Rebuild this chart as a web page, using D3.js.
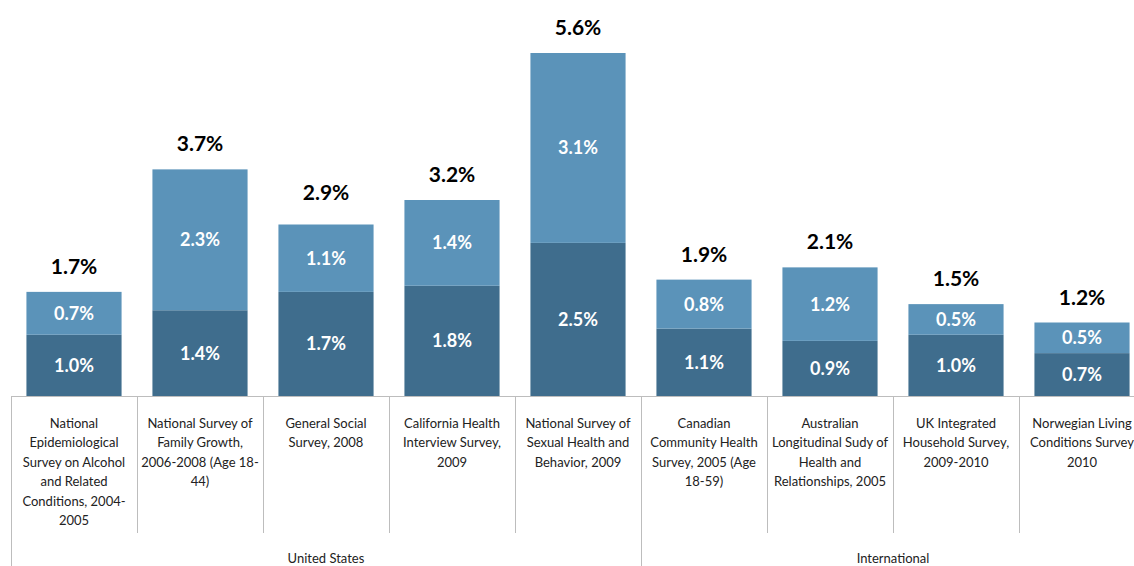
<!DOCTYPE html>
<html>
<head>
<meta charset="utf-8">
<script src="https://cdn.jsdelivr.net/npm/d3@7"></script>
<style>
  body { margin: 0; background: #fff; }
  svg { display: block; font-family: Lato, "Open Sans", sans-serif; }
</style>
</head>
<body>
<div id="chart"></div>
<script>
// data
const categories = [
    ['National', 'Epidemiological', 'Survey on Alcohol', 'and Related', 'Conditions, 2004-', '2005'],
    ['National Survey of', 'Family Growth,', '2006-2008 (Age 18-', '44)'],
    ['General Social', 'Survey, 2008'],
    ['California Health', 'Interview Survey,', '2009'],
    ['National Survey of', 'Sexual Health and', 'Behavior, 2009'],
    ['Canadian', 'Community Health', 'Survey, 2005 (Age', '18-59)'],
    ['Australian', 'Longitudinal Sudy of', 'Health and', 'Relationships, 2005'],
    ['UK Integrated', 'Household Survey,', '2009-2010'],
    ['Norwegian Living', 'Conditions Survey', '2010']
];
const lowerValues = [1.0, 1.4, 1.7, 1.8, 2.5, 1.1, 0.9, 1.0, 0.7];
const upperValues = [0.7, 2.3, 1.1, 1.4, 3.1, 0.8, 1.2, 0.5, 0.5];
const totals = [1.7, 3.7, 2.9, 3.2, 5.6, 1.9, 2.1, 1.5, 1.2];
const groups = [
    {name: 'United States', from: 0, to: 4},
    {name: 'International', from: 5, to: 8}
];

const width = 1134, height = 566;
const left = 11, right = 1145;
const baseY = 396;

const svg = d3.select('#chart').append('svg')
    .attr('width', width)
    .attr('height', height);

// scales
const x = d3.scaleBand()
    .domain(d3.range(categories.length))
    .range([left, right])
    .paddingInner(0.245)
    .paddingOuter(0.1225);

const y = d3.scaleLinear()
    .domain([0, 6])
    .range([baseY, baseY - 6 * 61.25]);

const darkColor = '#3f6d8d';
const lightColor = '#5b93b9';

const step = x.step();
const edge = i => left + i * step;

// bars
const bars = svg.append('g').selectAll('g')
    .data(categories.map((c, i) => i))
    .join('g');

bars.append('rect')
    .attr('x', i => x(i))
    .attr('width', x.bandwidth())
    .attr('y', i => y(lowerValues[i]))
    .attr('height', i => baseY - y(lowerValues[i]))
    .attr('fill', darkColor);

bars.append('rect')
    .attr('x', i => x(i))
    .attr('width', x.bandwidth())
    .attr('y', i => y(lowerValues[i] + upperValues[i]))
    .attr('height', i => y(lowerValues[i]) - y(lowerValues[i] + upperValues[i]))
    .attr('fill', lightColor);

// segment labels
bars.append('text')
    .attr('x', i => x(i) + x.bandwidth() / 2)
    .attr('y', i => y(lowerValues[i] / 2))
    .attr('dy', '0.36em')
    .attr('text-anchor', 'middle')
    .attr('fill', '#fff')
    .attr('font-weight', 'bold')
    .attr('font-size', 18)
    .text(i => lowerValues[i].toFixed(1) + '%');

bars.append('text')
    .attr('x', i => x(i) + x.bandwidth() / 2)
    .attr('y', i => y(lowerValues[i] + upperValues[i] / 2))
    .attr('dy', '0.36em')
    .attr('text-anchor', 'middle')
    .attr('fill', '#fff')
    .attr('font-weight', 'bold')
    .attr('font-size', 18)
    .text(i => upperValues[i].toFixed(1) + '%');

// totals
bars.append('text')
    .attr('x', i => x(i) + x.bandwidth() / 2)
    .attr('y', i => y(totals[i]) - 18)
    .attr('text-anchor', 'middle')
    .attr('fill', '#000')
    .attr('font-weight', 'bold')
    .attr('font-size', 21)
    .text(i => totals[i].toFixed(1) + '%');

// axis line and category grid
const grid = svg.append('g')
    .attr('stroke', '#bdbdbd')
    .attr('stroke-width', 1);

grid.append('line')
    .attr('x1', left).attr('x2', right)
    .attr('y1', baseY + 0.5).attr('y2', baseY + 0.5);

const groupEdges = new Set([0, ...groups.map(g => g.to + 1)]);
d3.range(categories.length + 1).forEach(i => {
    grid.append('line')
        .attr('x1', Math.round(edge(i)) + 0.5)
        .attr('x2', Math.round(edge(i)) + 0.5)
        .attr('y1', baseY)
        .attr('y2', groupEdges.has(i) ? height : 533);
});

// category labels
const labels = svg.append('g')
    .attr('font-size', 13)
    .attr('fill', '#222')
    .attr('text-anchor', 'middle');

categories.forEach((lines, i) => {
    const t = labels.append('text')
        .attr('x', x(i) + x.bandwidth() / 2)
        .attr('y', 428);
    lines.forEach((line, k) => {
        t.append('tspan')
            .attr('x', x(i) + x.bandwidth() / 2)
            .attr('dy', k === 0 ? 0 : 19.4)
            .text(line);
    });
});

// group labels
svg.append('g').selectAll('text')
    .data(groups)
    .join('text')
    .attr('x', g => (edge(g.from) + edge(g.to + 1)) / 2)
    .attr('y', 563)
    .attr('text-anchor', 'middle')
    .attr('font-size', 13)
    .attr('fill', '#222')
    .text(g => g.name);
</script>
</body>
</html>
